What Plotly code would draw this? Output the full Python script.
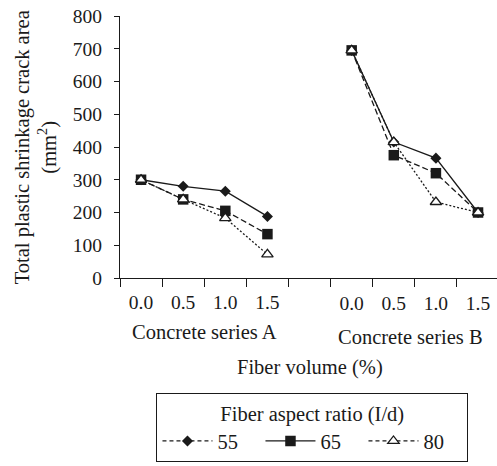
import plotly.graph_objects as go

# ---- data ----
fiber_volume_labels = ["0.0", "0.5", "1.0", "1.5"]
series_labels = ["Concrete series A", "Concrete series B"]
aspect_ratios = ["55", "65", "80"]

area_55_A = [300, 280, 265, 188]
area_65_A = [300, 240, 205, 134]
area_80_A = [300, 240, 183, 72]

area_55_B = [695, 415, 366, 200]
area_65_B = [695, 375, 320, 200]
area_80_B = [695, 415, 232, 200]

# category positions: group A occupies slots 0-3, group B slots 5-8
pos_A = [i + 0.5 for i in range(len(fiber_volume_labels))]
pos_B = [i + 5.5 for i in range(len(fiber_volume_labels))]
x_all = pos_A + [None] + pos_B

FONT = "Liberation Serif"
INK = "#1a1a1a"
TXT = 20.5
TICK = 19.5

styles = {
    "55": dict(line=dict(color=INK, width=1.3, dash="solid"),
               marker=dict(symbol="diamond", size=8.5, color=INK, line=dict(width=0))),
    "65": dict(line=dict(color=INK, width=1.3, dash="6px,3px"),
               marker=dict(symbol="square", size=10.5, color=INK, line=dict(width=0))),
    "80": dict(line=dict(color=INK, width=1.3, dash="2px,2px"),
               marker=dict(symbol="triangle-up", size=10, color="white",
                           line=dict(color=INK, width=1.3))),
}
data = {
    "55": area_55_A + [None] + area_55_B,
    "65": area_65_A + [None] + area_65_B,
    "80": area_80_A + [None] + area_80_B,
}

fig = go.Figure()
for r in aspect_ratios:
    fig.add_trace(go.Scatter(x=x_all, y=data[r], mode="lines+markers",
                             name=r, showlegend=False, connectgaps=False,
                             **styles[r]))

# legend entries (styled as in the original legend box)
legend_styles = {
    "55": dict(line=dict(color=INK, width=1.3, dash="4px,3px"),
               marker=dict(symbol="diamond", size=8.5, color=INK)),
    "65": dict(line=dict(color=INK, width=1.3, dash="solid"),
               marker=dict(symbol="square", size=10.5, color=INK)),
    "80": dict(line=dict(color=INK, width=1.3, dash="4px,3px"),
               marker=dict(symbol="triangle-up", size=10, color="white",
                           line=dict(color=INK, width=1.3))),
}
for r in aspect_ratios:
    fig.add_trace(go.Scatter(x=[None], y=[None], mode="lines+markers", name=r,
                             showlegend=True, **legend_styles[r]))

# overlay axes: B tick labels (set slightly lower) and separator ticks
fig.add_trace(go.Scatter(x=[None], y=[None], xaxis="x2", showlegend=False))
fig.add_trace(go.Scatter(x=[None], y=[None], xaxis="x3", showlegend=False))

XR = [0, 8.95]
fig.update_layout(
    width=497, height=466,
    margin=dict(l=120, r=0, t=16, b=188),
    paper_bgcolor="white", plot_bgcolor="white",
    font=dict(family=FONT, size=TXT, color=INK),
    xaxis=dict(range=XR, tickvals=pos_A, ticktext=fiber_volume_labels,
               ticks="", showgrid=False, zeroline=False,
               showline=True, linecolor=INK, linewidth=1.3,
               tickfont=dict(size=TICK, family=FONT), ticklabelstandoff=6),
    xaxis2=dict(range=XR, overlaying="x", anchor="y", side="bottom",
                tickvals=pos_B, ticktext=fiber_volume_labels, ticks="",
                tickfont=dict(size=TICK, family=FONT), ticklabelstandoff=11,
                showgrid=False, zeroline=False, showline=False),
    xaxis3=dict(range=XR, overlaying="x", anchor="y", side="bottom",
                tickvals=list(range(9)), ticks="outside", ticklen=8,
                tickwidth=1.3, tickcolor=INK, showticklabels=False,
                showgrid=False, zeroline=False, showline=False),
    yaxis=dict(range=[0, 800], tickvals=list(range(0, 801, 100)),
               ticks="outside", ticklen=5, tickwidth=1.3, tickcolor=INK,
               showgrid=False, zeroline=False, showline=True,
               linecolor=INK, linewidth=1.3, tickfont=dict(size=TICK, family=FONT),
               ticklabelstandoff=8),
    legend=dict(orientation="h", x=0.51, xanchor="center", y=-0.44,
                yanchor="top", bordercolor=INK, borderwidth=1.2,
                bgcolor="white", font=dict(size=TXT, family=FONT),
                title=dict(text="Fiber aspect ratio (I/d)", side="top center",
                           font=dict(size=TXT, family=FONT)),
                itemwidth=50, entrywidth=38, entrywidthmode="pixels",
                itemsizing="trace"),
    showlegend=True,
)

fig.add_annotation(text="Total plastic shrinkage crack area<br>(mm<sup>2</sup>)",
                   xref="paper", yref="paper", x=-0.222, y=0.5,
                   xanchor="center", yanchor="middle", textangle=-90,
                   showarrow=False, font=dict(size=TXT, family=FONT, color=INK))
fig.add_annotation(text=series_labels[0], xref="x", yref="paper",
                   x=sum(pos_A) / 4, y=-0.206, yanchor="middle",
                   showarrow=False, font=dict(size=TXT, family=FONT))
fig.add_annotation(text=series_labels[1], xref="x", yref="paper",
                   x=sum(pos_B) / 4 - 0.1, y=-0.225, yanchor="middle",
                   showarrow=False, font=dict(size=TXT, family=FONT))
fig.add_annotation(text="Fiber volume (%)", xref="paper", yref="paper",
                   x=0.504, y=-0.34, yanchor="middle",
                   showarrow=False, font=dict(size=TXT, family=FONT))

fig.write_html("out.html")
